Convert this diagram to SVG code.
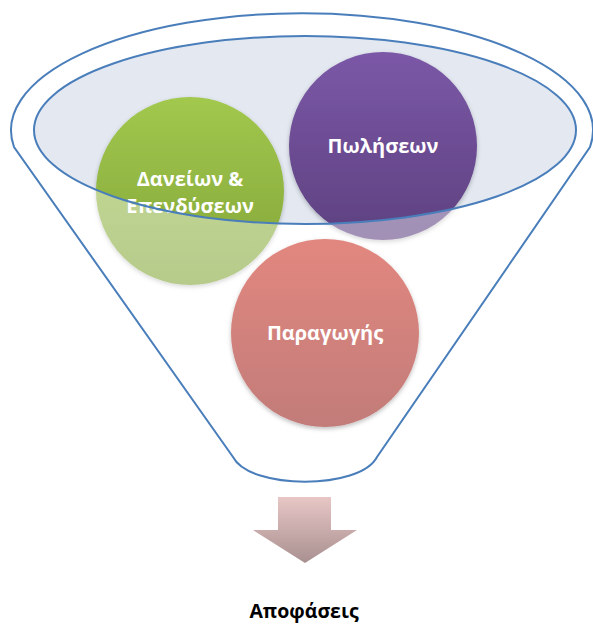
<svg xmlns="http://www.w3.org/2000/svg" width="593" height="624" viewBox="0 0 593 624">
<style>
.lbl{font-family:"Open Sans","Noto Sans","Liberation Sans",sans-serif;font-weight:bold;font-size:20px;fill:#ffffff;text-anchor:middle}
.cap{font-family:"Open Sans","Noto Sans","Liberation Sans",sans-serif;font-weight:bold;font-size:19.5px;fill:#000000;text-anchor:middle}
.edge{fill:none;stroke:#4a7ebb;stroke-width:2}
</style>
<defs>
<linearGradient id="gGreen" x1="0" y1="0" x2="0" y2="1"><stop offset="0" stop-color="#a2c84e"/><stop offset="1" stop-color="#82a437"/></linearGradient>
<linearGradient id="gPurple" x1="0" y1="0" x2="0" y2="1"><stop offset="0" stop-color="#7b58a7"/><stop offset="1" stop-color="#5e4180"/></linearGradient>
<linearGradient id="gRed" x1="0" y1="0" x2="0" y2="1"><stop offset="0" stop-color="#e2877f"/><stop offset="1" stop-color="#c27c79"/></linearGradient>
<linearGradient id="gArrow" x1="0" y1="0" x2="0" y2="1"><stop offset="0" stop-color="#e8c6c6"/><stop offset="1" stop-color="#a99090"/></linearGradient>
<filter id="sh" x="-20%" y="-20%" width="140%" height="140%"><feDropShadow dx="0" dy="2" stdDeviation="2" flood-color="#000" flood-opacity="0.25"/></filter>
</defs>
<ellipse id="bowl-fill" cx="305" cy="130" rx="271" ry="94" fill="#e3e8f1"/>
<g id="node-loans">
<circle cx="190" cy="191" r="94" fill="url(#gGreen)" filter="url(#sh)"/>
<text class="lbl" x="190" y="186">Δανείων &amp;</text>
<text class="lbl" x="190" y="213">Επενδύσεων</text>
</g>
<g id="node-sales">
<circle cx="383" cy="146" r="94" fill="url(#gPurple)" filter="url(#sh)"/>
<text class="lbl" x="383" y="153">Πωλήσεων</text>
</g>
<path id="wash" fill="#ffffff" fill-opacity="0.42" fill-rule="evenodd" d="M14 147 A291 117 0 1 1 590 147 L377 457 C360 490 250 490 233 457 Z M34 130 A271 94 0 1 0 576 130 A271 94 0 1 0 34 130 Z"/>
<ellipse id="bowl-edge" class="edge" cx="305" cy="130" rx="271" ry="94"/>
<g id="node-production">
<circle cx="325" cy="333" r="94" fill="url(#gRed)" filter="url(#sh)"/>
<text class="lbl" x="325" y="340">Παραγωγής</text>
</g>
<path id="funnel" class="edge" d="M14 147 A291 117 0 1 1 590 147 L377 457 C360 490 250 490 233 457 Z"/>
<g id="connectors">
<path id="arrow" d="M278 497 L331 497 L331 530 L357 530 L305 563 L253 530 L278 530 Z" fill="url(#gArrow)"/>
</g>
<g id="node-decisions">
<text class="cap" x="304" y="618">Αποφάσεις</text>
</g>
</svg>
